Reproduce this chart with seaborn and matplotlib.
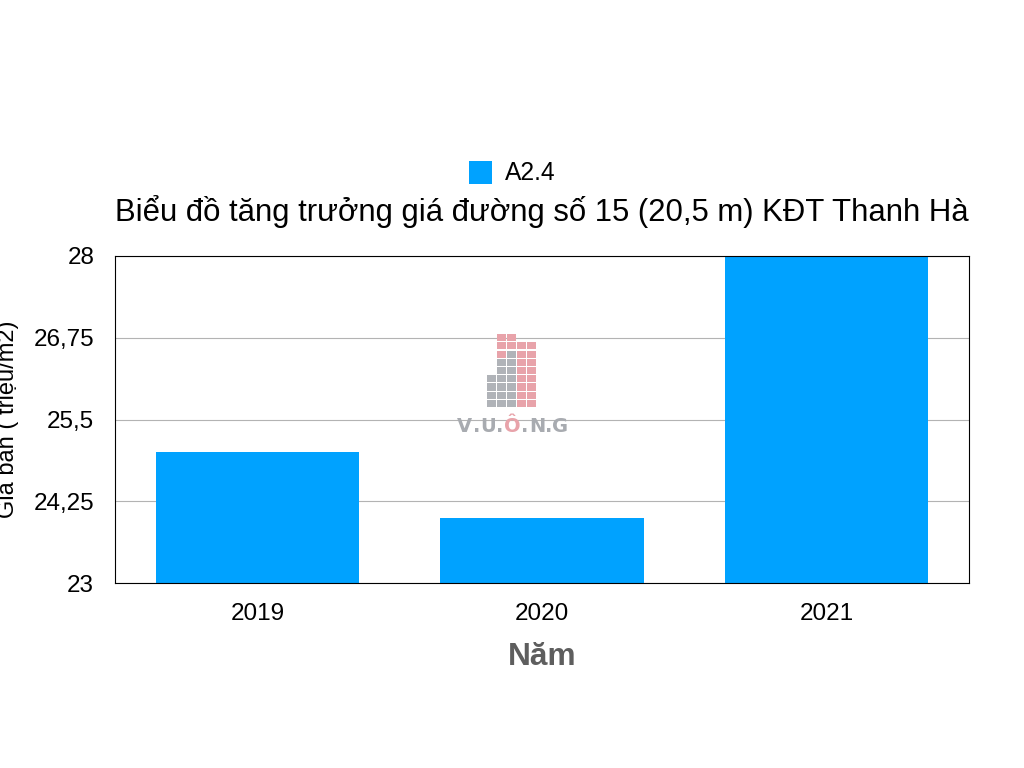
import matplotlib
matplotlib.use("Agg")
import matplotlib.pyplot as plt
from matplotlib.patches import Rectangle
import pandas as pd
import seaborn as sns

years = ["2019", "2020", "2021"]
prices = [25, 24, 28]
series_name = "A2.4"
y_ticks = [23, 24.25, 25.5, 26.75, 28]
y_tick_labels = ["23", "24,25", "25,5", "26,75", "28"]
title = "Biểu đồ tăng trưởng giá đường số 15 (20,5 m) KĐT Thanh Hà"
x_label = "Năm"
y_label = "Giá bán ( triệu/m2)"
BLUE = "#00A2FF"

sns.set_theme(style="white")
plt.rcParams["font.family"] = ["Liberation Sans", "DejaVu Sans"]

W, H = 1024, 768
fig = plt.figure(figsize=(W / 100, H / 100), dpi=100, facecolor="white")
ax = fig.add_axes([115 / W, 1 - 583 / H, 854 / W, 327 / H])

df = pd.DataFrame({"Năm": years, "Giá": prices})
sns.barplot(data=df, x="Năm", y="Giá", color=BLUE, saturation=1, width=0.714, linewidth=0, ax=ax, zorder=3)
ax.set_ylim(23, 28)
ax.set_xlim(-0.5, 2.5)
ax.set_yticks(y_ticks)
ax.set_yticklabels(y_tick_labels)
ax.yaxis.grid(True, color="#b3b3b3", linewidth=0.8)
ax.xaxis.grid(False)
ax.set_axisbelow(True)
for s in ax.spines.values():
    s.set_color("black")
    s.set_linewidth(0.8)
    s.set_zorder(5)
ax.tick_params(axis="both", length=0, labelsize=17.5, labelcolor="black")
ax.tick_params(axis="x", pad=14.5)
ax.tick_params(axis="y", pad=15)
ax.set_xlabel("")
ax.set_ylabel("")

fig.text(542 / W, 1 - 657 / H, x_label, ha="center", va="center", fontsize=22.8, fontweight="bold", color="#5e5e5e")
fig.text(8 / W, 1 - 419 / H, y_label, ha="center", va="center", rotation=90, fontsize=17, color="black")
fig.text(542 / W, 1 - 212 / H, title, ha="center", va="center", fontsize=22.4, color="black")

# legend
fig.add_artist(Rectangle((469 / W, 1 - 184 / H), 23 / W, 23 / H, transform=fig.transFigure, facecolor=BLUE, edgecolor="none"))
fig.text(505 / W, 1 - 173 / H, series_name, ha="left", va="center", fontsize=17.7, color="black")

# watermark logo
PINK, GREY = "#E8A3AA", "#B0B3B8"
logo_cols = [
    [None] * 5 + [GREY] * 4,
    [PINK] * 3 + [GREY] * 6,
    [PINK] * 2 + [GREY] * 7,
    [None] + [PINK] * 8,
    [None] + [PINK] * 8,
]
for c, col in enumerate(logo_cols):
    for r, colr in enumerate(col):
        if colr:
            x0, y0 = 487 + c * 10, 334 + r * 8.25
            fig.add_artist(Rectangle((x0 / W, 1 - (y0 + 7.2) / H), 8.8 / W, 7.2 / H,
                                     transform=fig.transFigure, facecolor=colr, edgecolor="none", zorder=6))
logo_letters = ["V", ".", "U", ".", "Ô", ".", "N", ".", "G"]
logo_x = [464, 477, 488, 500, 512, 525, 537, 549, 560]
for ch, lx in zip(logo_letters, logo_x):
    fig.text(lx / W, 1 - 432 / H, ch, ha="center", va="baseline", fontsize=14,
             color=PINK if ch == "Ô" else "#A8ABB0", fontweight="bold", zorder=6, family="DejaVu Sans")

fig.savefig("out.png", dpi=100)
